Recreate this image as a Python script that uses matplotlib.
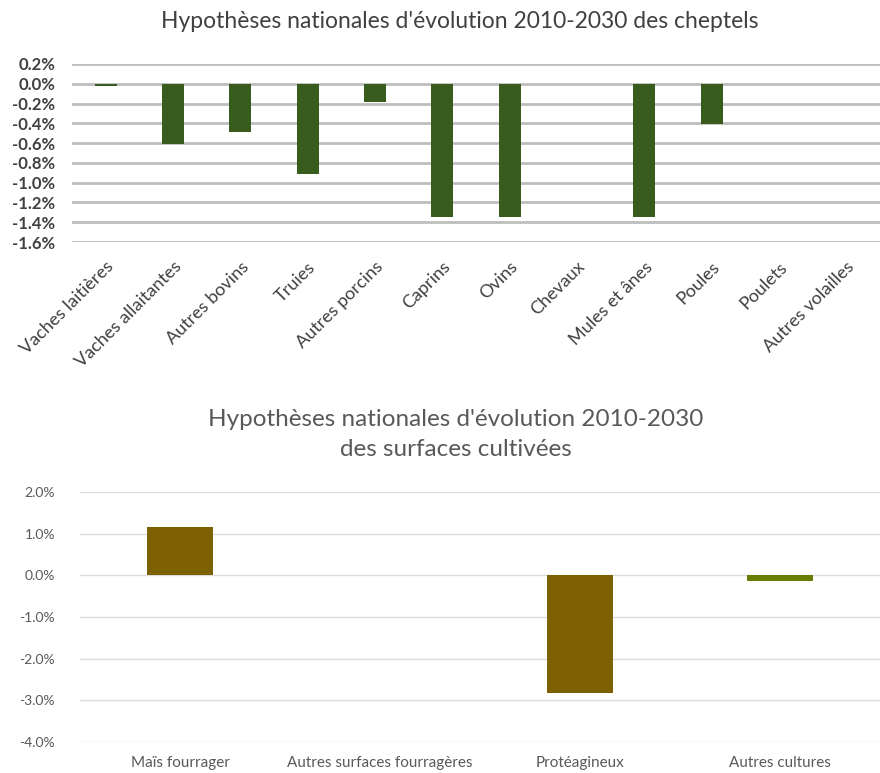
import matplotlib
matplotlib.use("Agg")
import matplotlib.pyplot as plt
from matplotlib.ticker import FuncFormatter
import numpy as np

plt.rcParams['font.family'] = ['Lato', 'DejaVu Sans']

# --- Data: cheptels ---
cheptel_categories = ["Vaches laitières", "Vaches allaitantes", "Autres bovins", "Truies",
                      "Autres porcins", "Caprins", "Ovins", "Chevaux", "Mules et ânes",
                      "Poules", "Poulets", "Autres volailles"]
cheptel_values = [-0.02, -0.61, -0.49, -0.91, -0.18, -1.35, -1.35, 0.0, -1.35, -0.41, 0.0, 0.0]
cheptel_ticks = [0.2, 0.0, -0.2, -0.4, -0.6, -0.8, -1.0, -1.2, -1.4, -1.6]

# --- Data: surfaces ---
surface_categories = ["Maïs fourrager", "Autres surfaces fourragères", "Protéagineux", "Autres cultures"]
surface_values = [1.17, 0.0, -2.82, -0.14]
surface_ticks = [2.0, 1.0, 0.0, -1.0, -2.0, -3.0, -4.0]

fig = plt.figure(figsize=(8.8, 7.73), dpi=100)

def pct(v, p):
    s = f"{v:.1f}%"
    return "0.0%" if s == "-0.0%" else s

# ---------------- Top chart ----------------
ax1 = fig.add_axes([72/880, 1-242/773, 1-72/880, (242-64)/773])
x1 = np.arange(len(cheptel_categories))
ax1.bar(x1, cheptel_values, width=0.33, color="#375c1e", zorder=3)
ax1.set_xlim(-0.5, len(cheptel_categories)-0.5)
ax1.set_ylim(-1.6, 0.2)
ax1.set_yticks(cheptel_ticks)
ax1.yaxis.set_major_formatter(FuncFormatter(pct))
ax1.grid(axis='y', color="#bdbdbd", linewidth=2.0, zorder=0)
ax1.tick_params(axis='y', length=0, pad=12, labelsize=12, labelcolor="#404040")
for lab in ax1.get_yticklabels():
    lab.set_fontweight('bold')
ax1.set_xticks(x1)
ax1.set_xticklabels(cheptel_categories, rotation=45, ha='right', rotation_mode='anchor',
                    fontsize=13, color="#404040")
ax1.tick_params(axis='x', length=0, pad=12)
for s in ax1.spines.values():
    s.set_visible(False)
fig.text(0.523, 1-22/773, "Hypothèses nationales d'évolution 2010-2030 des cheptels",
         ha='center', va='center', fontsize=16.5, color="#404040")

# ---------------- Bottom chart ----------------
ax2 = fig.add_axes([80/880, 1-742/773, 1-80/880, (742-492)/773])
x2 = np.arange(len(surface_categories))
colors2 = ["#7d6000", "#7d6000", "#7d6000", "#6b7d00"]
ax2.bar(x2, surface_values, width=0.33, color=colors2, zorder=3)
ax2.set_xlim(-0.5, len(surface_categories)-0.5)
ax2.set_ylim(-4.0, 2.0)
ax2.set_yticks(surface_ticks)
ax2.yaxis.set_major_formatter(FuncFormatter(pct))
ax2.grid(axis='y', color="#dcdcdc", linewidth=1.0, zorder=0)
ax2.tick_params(axis='y', length=0, pad=18, labelsize=10, labelcolor="#595959")
ax2.set_xticks(x2)
ax2.set_xticklabels(surface_categories, fontsize=11, color="#595959")
ax2.tick_params(axis='x', length=0, pad=10)
for s in ax2.spines.values():
    s.set_visible(False)
fig.text(0.518, 1-420/773, "Hypothèses nationales d'évolution 2010-2030",
         ha='center', va='center', fontsize=17.5, color="#595959")
fig.text(0.518, 1-450/773, "des surfaces cultivées",
         ha='center', va='center', fontsize=17.5, color="#595959")

fig.savefig("out.png", dpi=100, facecolor="white")
